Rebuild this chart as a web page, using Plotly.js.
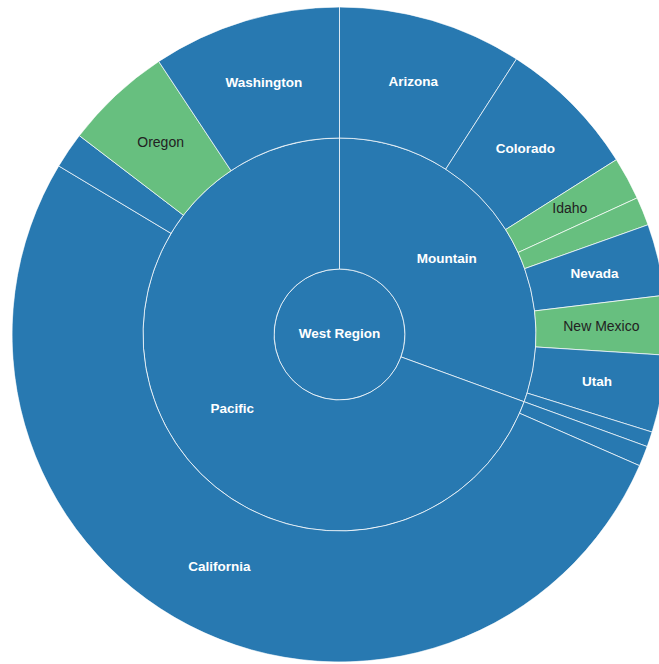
<!DOCTYPE html>
<html>
<head>
<meta charset="utf-8">
<script src="https://cdn.plot.ly/plotly-3.0.1.min.js"></script>
<style>
html, body { margin: 0; padding: 0; overflow: hidden; background: #ffffff; }
#chart { width: 679px; height: 669px; }
</style>
</head>
<body>
<div id="chart"></div>
<script>
// ---- data (values in millions) ----
const rootLabel = 'West Region';
const regions = ['Mountain', 'Pacific'];
const states = ['Arizona', 'Colorado', 'Idaho', 'Montana', 'Nevada', 'New Mexico', 'Utah', 'Wyoming',
                'Alaska', 'California', 'Hawaii', 'Oregon', 'Washington'];
const stateRegion = ['Mountain', 'Mountain', 'Mountain', 'Mountain', 'Mountain', 'Mountain', 'Mountain', 'Mountain',
                     'Pacific', 'Pacific', 'Pacific', 'Pacific', 'Pacific'];
const stateValues = [7.09, 5.42, 1.65, 1.10, 2.75, 2.28, 2.97, 0.58,
                     0.78, 40.60, 1.39, 4.14, 7.26];
const stateGroup = ['A', 'A', 'B', 'B', 'A', 'B', 'A', 'A',
                    'A', 'A', 'A', 'B', 'A'];

// ---- styles ----
const fillColor = { A: '#2879b1', B: '#67bf7f' };
const labelFont = {
  A: { color: '#ffffff', size: 13.5, weight: 'bold' },
  B: { color: '#222222', size: 14, weight: 'normal' }
};
const FONT = '"Liberation Sans", Arial, sans-serif';
const RING = { root: [0, 1], region: [1, 3], state: [3, 5] }; // radial units
const MIN_LABEL_DEG = 7;

// ---- derived ----
const sum = a => a.reduce((s, v) => s + v, 0);
const total = sum(stateValues);
const regionValues = regions.map(r => sum(stateValues.filter((v, i) => stateRegion[i] === r)));
function arcs(values) {
  let acc = 0;
  return values.map(v => {
    const a0 = acc / total * 360; acc += v; const a1 = acc / total * 360;
    return { mid: (a0 + a1) / 2, span: a1 - a0 };
  });
}
const stateArcs = arcs(stateValues);
const regionArcs = arcs(regionValues);

const line = { color: 'rgba(255,255,255,0.7)', width: 1 };

const rootTrace = {
  type: 'barpolar', name: rootLabel,
  r: [RING.root[1] - RING.root[0]], base: [RING.root[0]], theta: [0], width: [360],
  marker: { color: fillColor.A, line: line }, hoverinfo: 'skip'
};
const regionTrace = {
  type: 'barpolar', name: 'regions',
  r: regions.map(() => RING.region[1] - RING.region[0]),
  base: regions.map(() => RING.region[0]),
  theta: regionArcs.map(a => a.mid), width: regionArcs.map(a => a.span),
  marker: { color: regions.map(() => fillColor.A), line: line },
  text: regions, hoverinfo: 'text'
};
const stateTrace = {
  type: 'barpolar', name: 'states',
  r: states.map(() => RING.state[1] - RING.state[0]),
  base: states.map(() => RING.state[0]),
  theta: stateArcs.map(a => a.mid), width: stateArcs.map(a => a.span),
  marker: { color: stateGroup.map(g => fillColor[g]), line: line },
  text: states, hoverinfo: 'text'
};

// labels, one text trace per label style
const labels = { A: { r: [], t: [], s: [] }, B: { r: [], t: [], s: [] } };
function addLabel(g, r, t, s) { labels[g].r.push(r); labels[g].t.push(t); labels[g].s.push(s); }
addLabel('A', 0, 0, rootLabel);
regions.forEach((r, i) => addLabel('A', (RING.region[0] + RING.region[1]) / 2, regionArcs[i].mid, r));
states.forEach((s, i) => {
  if (stateArcs[i].span >= MIN_LABEL_DEG)
    addLabel(stateGroup[i], (RING.state[0] + RING.state[1]) / 2, stateArcs[i].mid, s);
});
const labelTraces = ['A', 'B'].map(g => ({
  type: 'scatterpolar', mode: 'text',
  r: labels[g].r, theta: labels[g].t, text: labels[g].s,
  textposition: 'middle center',
  textfont: Object.assign({ family: FONT }, labelFont[g]),
  hoverinfo: 'skip'
}));

const layout = {
  width: 679, height: 669,
  margin: { l: 12, r: 12, t: 7, b: 7, pad: 0 },
  paper_bgcolor: '#ffffff',
  showlegend: false,
  font: { family: FONT },
  polar: {
    domain: { x: [0, 1], y: [0, 1] },
    bgcolor: 'rgba(0,0,0,0)',
    hole: 0, bargap: 0, barmode: 'overlay',
    radialaxis: { range: [0, 5], visible: false },
    angularaxis: { rotation: 90, direction: 'clockwise', visible: false }
  }
};

Plotly.newPlot('chart', [rootTrace, regionTrace, stateTrace].concat(labelTraces), layout,
  { displayModeBar: false, responsive: false });
</script>
</body>
</html>
